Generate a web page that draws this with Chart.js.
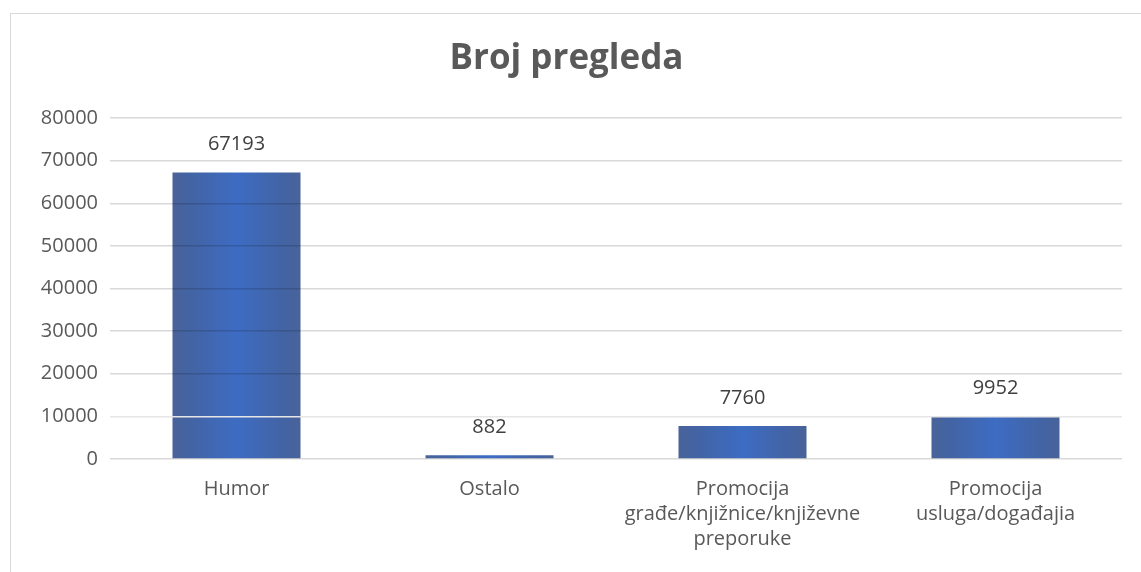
<!DOCTYPE html>
<html>
<head>
<meta charset="utf-8">
<script src="https://cdn.jsdelivr.net/npm/chart.js@4.4.1/dist/chart.umd.min.js"></script>
<style>
    html, body { margin: 0; padding: 0; background: #fff; }
    body { width: 1141px; height: 572px; overflow: hidden; position: relative; }
    #okvir {
        position: absolute; left: 10px; top: 13px;
        width: 1140px; height: 600px;
        border: 1px solid #d9d9d9; box-sizing: border-box;
    }
    #chartWrap { position: absolute; left: 0; top: 0; width: 1130px; height: 558px; }
</style>
</head>
<body>
<div id="okvir">
    <div id="chartWrap"><canvas id="pregledChart"></canvas></div>
</div>
<script>
// Podaci grafikona
const kategorije = [
    'Humor',
    'Ostalo',
    ['Promocija', 'građe/knjižnice/književne', 'preporuke'],
    ['Promocija', 'usluga/događajia']
];
const brojPregleda = [67193, 882, 7760, 9952];
const yMin = 0;
const yMax = 80000;
const yKorak = 10000;

const FONT = '"Open Sans", "DejaVu Sans", sans-serif';
const BAR_PCT = 0.506;

// Gradijent za stupce (tamniji rubovi, svjetlija sredina)
function bojaStupca(ctx) {
    const chart = ctx.chart;
    const x = chart.scales.x;
    if (!x || !chart.chartArea) return '#3d66b5';
    const centar = x.getPixelForValue(ctx.dataIndex);
    const pola = (x.width / kategorije.length) * BAR_PCT / 2;
    const g = chart.ctx.createLinearGradient(centar - pola, 0, centar + pola, 0);
    g.addColorStop(0, '#4a6399');
    g.addColorStop(0.12, '#4363a2');
    g.addColorStop(0.5, '#3d6cc3');
    g.addColorStop(0.88, '#4363a2');
    g.addColorStop(1, '#4a6399');
    return g;
}

// Vrijednosti iznad stupaca
const oznakePlugin = {
    id: 'oznake',
    afterDatasetsDraw(chart) {
        const ctx = chart.ctx;
        const meta = chart.getDatasetMeta(0);
        ctx.save();
        ctx.font = '20px ' + FONT;
        ctx.fillStyle = '#404040';
        ctx.textAlign = 'center';
        ctx.textBaseline = 'middle';
        meta.data.forEach((el, i) => {
            ctx.fillText(String(brojPregleda[i]), el.x, el.y - 28);
        });
        ctx.restore();
    }
};

const ctx = document.getElementById('pregledChart').getContext('2d');
new Chart(ctx, {
    type: 'bar',
    data: {
        labels: kategorije,
        datasets: [{
            label: 'Broj pregleda',
            data: brojPregleda,
            backgroundColor: bojaStupca,
            borderWidth: 0,
            barPercentage: BAR_PCT,
            categoryPercentage: 1
        }]
    },
    options: {
        responsive: true,
        maintainAspectRatio: false,
        animation: false,
        layout: { padding: { left: 0, right: 19, top: 0, bottom: 10 } },
        plugins: {
            legend: { display: false },
            tooltip: { enabled: false },
            title: {
                display: true,
                text: 'Broj pregleda',
                color: '#595959',
                font: { family: FONT, size: 35, weight: 'bold' },
                padding: { top: 24, bottom: 38 }
            }
        },
        scales: {
            x: {
                grid: { display: false },
                border: { display: false },
                ticks: {
                    color: '#595959',
                    font: { family: FONT, size: 20, lineHeight: 1.25 },
                    padding: 10,
                    maxRotation: 0,
                    autoSkip: false
                }
            },
            y: {
                min: yMin,
                max: yMax,
                border: { display: false },
                grid: {
                    z: 1,
                    drawTicks: false,
                    lineWidth: 1.5,
                    color: c => c.tick && c.tick.value === yKorak ? '#e6e6e6' : 'rgba(0,0,0,0.15)'
                },
                ticks: {
                    stepSize: yKorak,
                    color: '#595959',
                    font: { family: FONT, size: 20 },
                    padding: 12,
                    callback: v => String(v)
                },
                afterFit(scale) { scale.width = 99; }
            }
        }
    },
    plugins: [oznakePlugin]
});
</script>
</body>
</html>
